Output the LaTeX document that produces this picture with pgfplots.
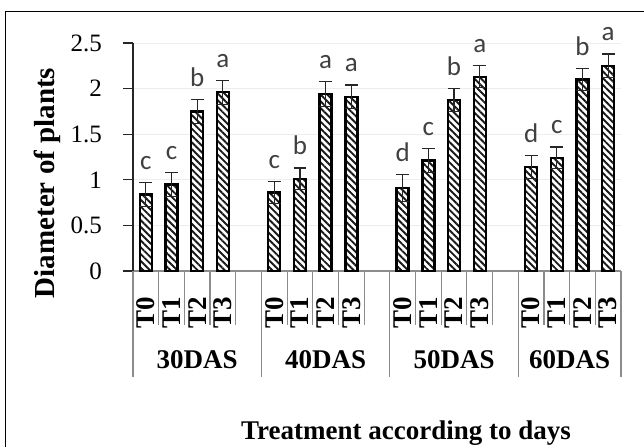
\documentclass[border=0pt]{standalone}
\usepackage{pgfplots}
\pgfplotsset{compat=1.18}
\usepackage{pgfplotstable}
\usetikzlibrary{patterns.meta}
\usepackage{fontspec}
\setmainfont{Liberation Serif}
\newfontfamily\calibri{Carlito}

\pgfplotstableread{
x y err top lab
0 0.84 0.13 0.97 c
1 0.95 0.13 1.08 c
2 1.75 0.13 1.88 b
3 1.96 0.13 2.09 a
5 0.86 0.12 0.98 c
6 1.01 0.12 1.13 b
7 1.94 0.14 2.08 a
8 1.91 0.13 2.04 a
10 0.91 0.15 1.06 d
11 1.21 0.13 1.34 c
12 1.875 0.125 2.00 b
13 2.13 0.12 2.25 a
15 1.14 0.13 1.27 d
16 1.24 0.12 1.36 c
17 2.10 0.12 2.22 b
18 2.25 0.13 2.38 a
}\data

\begin{document}
\begin{tikzpicture}
\begin{axis}[
  at={(66.5pt,87.5pt)}, anchor=south west,
  scale only axis, width=244pt, height=114pt,
  xmin=-0.5, xmax=18.5, ymin=0, ymax=2.5,
  enlargelimits=false, clip=false,
  axis x line*=bottom, axis y line*=left,
  axis line style={-},
  x axis line style={draw=black!45, line width=0.6pt},
  y axis line style={draw=black!85, line width=0.6pt},
  ymajorgrids, grid style={black!7, line width=0.5pt},
  ytick={0,0.5,1,1.5,2,2.5},
  yticklabels={\rmfamily 0,\rmfamily 0.5,\rmfamily 1,\rmfamily 1.5,\rmfamily 2,\rmfamily 2.5},
  tick align=outside, major tick length=5pt,
  ytick style={draw=black!85, line width=0.6pt},
  xtick={0,1,2,3,5,6,7,8,10,11,12,13,15,16,17,18},
  xticklabels={T0,T1,T2,T3,T0,T1,T2,T3,T0,T1,T2,T3,T0,T1,T2,T3},
  xtick style={draw=none},
  xticklabel style={rotate=90, anchor=east, font=\bfseries\fontsize{13.5}{15}\selectfont},
  xticklabel shift=4.5pt,
  yticklabel style={font=\rmfamily\fontsize{12.5}{14}\selectfont, xshift=-7pt},
]
\addplot[ybar, bar width=6pt, draw=black, line width=1.2pt, fill=white,
  postaction={pattern={Lines[angle=-45,distance=2.4pt,line width=0.95pt]}, pattern color=black!90},
  error bars/.cd, y dir=both, y explicit,
  error bar style={line width=0.6pt, black!85},
  error mark options={rotate=90, mark size=3.2pt, line width=0.6pt, black!85}]
  table[x=x, y=y, y error=err] {\data};
\addplot[draw=none, mark=none, nodes near coords, point meta=explicit symbolic,
  nodes near coords style={anchor=base, yshift=6.5pt, font=\calibri\fontsize{13.5}{15}\selectfont, text=black!75}]
  table[x=x, y=top, meta=lab] {\data};
\pgfplotsinvokeforeach{-0.5,4.5,9.5,14.5,18.5}{
  \draw[black!45, line width=0.6pt] (axis cs:#1,0) -- ([yshift=-53pt]axis cs:#1,0);
}
\pgfplotsinvokeforeach{0.5,1.5,2.5,3.5,5.5,6.5,7.5,8.5,10.5,11.5,12.5,13.5,15.5,16.5,17.5}{
  \draw[black!45, line width=0.6pt] (axis cs:#1,0) -- ([yshift=-27pt]axis cs:#1,0);
}
\node[anchor=base, yshift=-48.5pt, font=\bfseries\fontsize{13.5}{15}\selectfont] at (axis cs:2,0) {30DAS};
\node[anchor=base, yshift=-48.5pt, font=\bfseries\fontsize{13.5}{15}\selectfont] at (axis cs:7,0) {40DAS};
\node[anchor=base, yshift=-48.5pt, font=\bfseries\fontsize{13.5}{15}\selectfont] at (axis cs:12,0) {50DAS};
\node[anchor=base, yshift=-48.5pt, font=\bfseries\fontsize{13.5}{15}\selectfont] at (axis cs:16.5,0) {60DAS};
\end{axis}
\node[rotate=90, font=\bfseries\fontsize{14.5}{16}\selectfont] at (23.75pt,131.5pt) {Diameter of plants};
\node[anchor=base, font=\bfseries\fontsize{13.5}{15}\selectfont] at (203pt,3.5pt) {Treatment according to days};
\draw[line width=0.65pt] (2.85pt,-20pt) rectangle (360pt,217.15pt);
\pgfresetboundingbox
\path[use as bounding box] (0,0) rectangle (322pt,223pt);
\end{tikzpicture}
\end{document}
